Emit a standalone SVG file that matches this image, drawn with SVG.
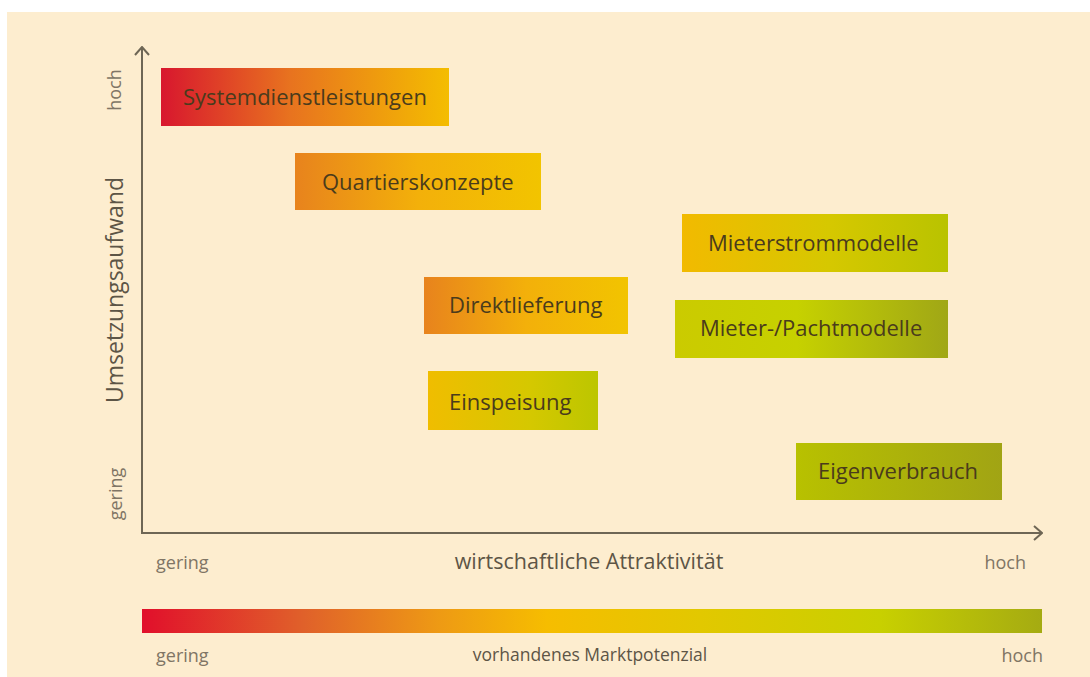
<svg xmlns="http://www.w3.org/2000/svg" width="1090" height="677" viewBox="0 0 1090 677">
  <style>
    .lbl { font-family: "Open Sans", "Liberation Sans", sans-serif; font-size: 22px; fill: #4a3b1c; }
    .ax { font-family: "Open Sans", "Liberation Sans", sans-serif; fill: #807565; font-size: 18px; }
    .axt { font-family: "Open Sans", "Liberation Sans", sans-serif; fill: #5d5546; }
    .axis { stroke: #6e6655; stroke-width: 2; fill: none; }
  </style>
  <defs>
    <linearGradient id="gSys" x1="0" y1="0" x2="1" y2="0">
      <stop offset="0" stop-color="#d8172e"/>
      <stop offset="0.45" stop-color="#e8731f"/>
      <stop offset="1" stop-color="#f4bd00"/>
    </linearGradient>
    <linearGradient id="gOrYe" x1="0" y1="0" x2="1" y2="0">
      <stop offset="0" stop-color="#e8831d"/>
      <stop offset="0.5" stop-color="#f3b00a"/>
      <stop offset="1" stop-color="#f2c400"/>
    </linearGradient>
    <linearGradient id="gYeGr" x1="0" y1="0" x2="1" y2="0">
      <stop offset="0" stop-color="#f2ba00"/>
      <stop offset="0.55" stop-color="#d6c800"/>
      <stop offset="1" stop-color="#b9c300"/>
    </linearGradient>
    <linearGradient id="gGrOl" x1="0" y1="0" x2="1" y2="0">
      <stop offset="0" stop-color="#cbcb00"/>
      <stop offset="0.45" stop-color="#c6d100"/>
      <stop offset="1" stop-color="#a0a716"/>
    </linearGradient>
    <linearGradient id="gEin" x1="0" y1="0" x2="1" y2="0">
      <stop offset="0" stop-color="#f0bd00"/>
      <stop offset="0.6" stop-color="#d5c800"/>
      <stop offset="1" stop-color="#bcc600"/>
    </linearGradient>
    <linearGradient id="gEig" x1="0" y1="0" x2="1" y2="0">
      <stop offset="0" stop-color="#b8c100"/>
      <stop offset="1" stop-color="#a1a414"/>
    </linearGradient>
    <linearGradient id="gBar" x1="0" y1="0" x2="1" y2="0">
      <stop offset="0" stop-color="#e10f2b"/>
      <stop offset="0.18" stop-color="#e0612a"/>
      <stop offset="0.33" stop-color="#ee9a14"/>
      <stop offset="0.45" stop-color="#f6bd00"/>
      <stop offset="0.62" stop-color="#e2c800"/>
      <stop offset="0.82" stop-color="#c8d000"/>
      <stop offset="1" stop-color="#a5ab12"/>
    </linearGradient>
    <marker id="arr" viewBox="0 0 10 16" refX="9" refY="8" markerWidth="10" markerHeight="16" markerUnits="userSpaceOnUse" orient="auto">
      <path d="M1,1 L9,8 L1,15" fill="none" stroke="#6e6655" stroke-width="2"/>
    </marker>
  </defs>

  <rect x="0" y="0" width="1090" height="677" fill="#ffffff"/>
  <rect x="7" y="12" width="1083" height="665" fill="#fdedcf"/>

  <g id="connectors">
    <path class="axis" d="M142,534 L142,47" marker-end="url(#arr)"/>
    <path class="axis" d="M141,533 L1042,533" marker-end="url(#arr)"/>
  </g>

  <g id="axis-labels">
    <text class="ax" transform="translate(121,90) rotate(-90)" text-anchor="middle">hoch</text>
    <text class="axt" font-size="23" transform="translate(123,290) rotate(-90)" text-anchor="middle">Umsetzungsaufwand</text>
    <text class="ax" font-size="17" transform="translate(122,494) rotate(-90)" text-anchor="middle">gering</text>
    <text class="ax" x="156" y="569" font-size="18.5">gering</text>
    <text class="axt" x="589" y="569" font-size="21.5" text-anchor="middle">wirtschaftliche Attraktivität</text>
    <text class="ax" x="1026" y="569" font-size="19" text-anchor="end">hoch</text>
  </g>

  <g id="node-systemdienstleistungen">
    <rect x="161" y="68" width="288" height="58" fill="url(#gSys)"/>
    <text class="lbl" x="183" y="105">Systemdienstleistungen</text>
  </g>
  <g id="node-quartierskonzepte">
    <rect x="295" y="153" width="246" height="57" fill="url(#gOrYe)"/>
    <text class="lbl" x="322" y="190">Quartierskonzepte</text>
  </g>
  <g id="node-mieterstrommodelle">
    <rect x="682" y="214" width="266" height="58" fill="url(#gYeGr)"/>
    <text class="lbl" x="708" y="251">Mieterstrommodelle</text>
  </g>
  <g id="node-direktlieferung">
    <rect x="424" y="277" width="204" height="57" fill="url(#gOrYe)"/>
    <text class="lbl" x="449" y="313">Direktlieferung</text>
  </g>
  <g id="node-mieter-pachtmodelle">
    <rect x="675" y="300" width="273" height="58" fill="url(#gGrOl)"/>
    <text class="lbl" x="700" y="336">Mieter-/Pachtmodelle</text>
  </g>
  <g id="node-einspeisung">
    <rect x="428" y="371" width="170" height="59" fill="url(#gEin)"/>
    <text class="lbl" x="449" y="410">Einspeisung</text>
  </g>
  <g id="node-eigenverbrauch">
    <rect x="796" y="443" width="206" height="57" fill="url(#gEig)"/>
    <text class="lbl" x="818" y="479">Eigenverbrauch</text>
  </g>

  <g id="legend-bar">
    <rect x="142" y="609" width="900" height="24" fill="url(#gBar)"/>
    <text class="ax" x="156" y="662" font-size="18.5">gering</text>
    <text class="axt" x="590" y="661" font-size="17.5" text-anchor="middle">vorhandenes Marktpotenzial</text>
    <text class="ax" x="1043" y="662" font-size="19" text-anchor="end">hoch</text>
  </g>
</svg>
